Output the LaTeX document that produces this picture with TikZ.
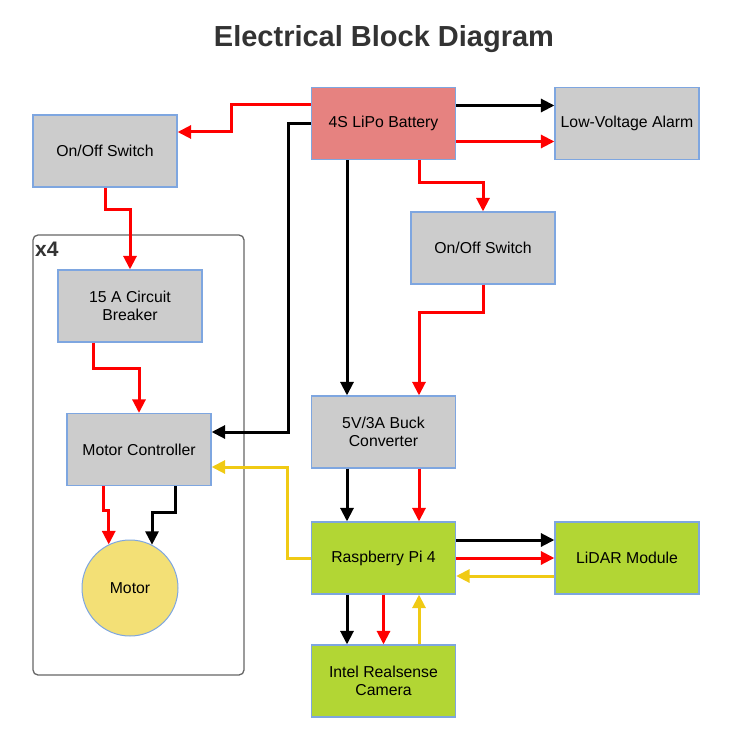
\documentclass[tikz,border=0pt]{standalone}
\usepackage{fontspec}
\setmainfont{Liberation Sans}
\usetikzlibrary{arrows.meta}
\definecolor{boxgrey}{RGB}{204,204,204}
\definecolor{boxedge}{RGB}{126,166,224}
\definecolor{battred}{RGB}{230,130,128}
\definecolor{pigreen}{RGB}{178,214,52}
\definecolor{motoryellow}{RGB}{243,224,118}
\definecolor{sigyellow}{RGB}{240,202,20}
\definecolor{titlegrey}{RGB}{51,51,51}
\begin{document}
\begin{tikzpicture}[x=1pt,y=-1pt,
  blk/.style={draw=boxedge, line width=1.2pt, fill=boxgrey, minimum width=144pt,
    minimum height=72pt, inner sep=2pt, align=center, font=\fontsize{15.8}{17.5}\selectfont},
  wire/.style={line width=3pt, -{Triangle[length=13.5pt,width=13pt]}},
  pwr/.style={wire, red},
  gnd/.style={wire, black},
  sig/.style={wire, sigyellow}]
  \useasboundingbox (0,0) rectangle (729,743);
  \node[anchor=base, text=titlegrey, font=\fontsize{29}{34}\selectfont\bfseries] (title) at (384,47) {Electrical Block Diagram};
  % x4 group
  \draw[draw=black!60, line width=1.3pt, rounded corners=5pt] (33,235) rectangle (244,675);
  \node[anchor=base west, inner sep=0pt, text=titlegrey, font=\fontsize{21}{24}\selectfont\bfseries] (grp) at (35,256) {x4};
  % blocks
  \node[blk, fill=battred] (bat) at (383.5,123.5) {4S LiPo Battery};
  \node[blk] (lva) at (627,123.5) {Low-Voltage Alarm};
  \node[blk] (swl) at (105,151) {On/Off Switch};
  \node[blk] (swr) at (483,248) {On/Off Switch};
  \node[blk] (cb) at (130,306) {15 A Circuit\\Breaker};
  \node[blk] (mc) at (139,449.5) {Motor Controller};
  \node[blk, circle, fill=motoryellow, line width=1pt, minimum size=96pt] (motor) at (130,588) {Motor};
  \node[blk] (buck) at (383.5,432) {5V/3A Buck\\Converter};
  \node[blk, fill=pigreen] (pi) at (383.5,558) {Raspberry Pi 4};
  \node[blk, fill=pigreen] (lidar) at (627,558) {LiDAR Module};
  \node[blk, fill=pigreen] (cam) at (383.5,681) {Intel Realsense\\Camera};
  % battery outputs
  \draw[pwr] (bat.west |- 0,105) -| (231,132) -- (swl.east |- 0,132);
  \draw[gnd] (bat.west) -| (288,432) -- (mc.east |- 0,432);
  \draw[gnd] (bat.south -| 347,0) -- (buck.north -| 347,0);
  \draw[pwr] (bat.south -| 419,0) |- (483,183) -- (swr.north);
  \draw[gnd] (bat.east |- 0,105.5) -- (lva.west |- 0,105.5);
  \draw[pwr] (bat.east |- 0,141.5) -- (lva.west |- 0,141.5);
  \draw[pwr] (swr.south) |- (419,312) -- (buck.north -| 419,0);
  % motor branch
  \draw[pwr] (swl.south) |- (130,210) -- (cb.north);
  \draw[pwr] (cb.south -| 93,0) |- (139,368) -- (mc.north);
  \draw[pwr] (mc.south -| 103,0) |- (motor.116 |- 0,510) -- (motor.116);
  \draw[gnd] (mc.south -| 175,0) |- (motor.63 |- 0,512) -- (motor.63);
  % 5V side
  \draw[gnd] (buck.south -| 347,0) -- (pi.north -| 347,0);
  \draw[pwr] (buck.south -| 419,0) -- (pi.north -| 419,0);
  \draw[sig] (pi.west) -| (287,467) -- (mc.east |- 0,467);
  \draw[gnd] (pi.east |- 0,540) -- (lidar.west |- 0,540);
  \draw[pwr] (pi.east) -- (lidar.west);
  \draw[sig] (lidar.west |- 0,576) -- (pi.east |- 0,576);
  \draw[gnd] (pi.south -| 347,0) -- (cam.north -| 347,0);
  \draw[pwr] (pi.south) -- (cam.north);
  \draw[sig] (cam.north -| 419,0) -- (pi.south -| 419,0);
\end{tikzpicture}
\end{document}
